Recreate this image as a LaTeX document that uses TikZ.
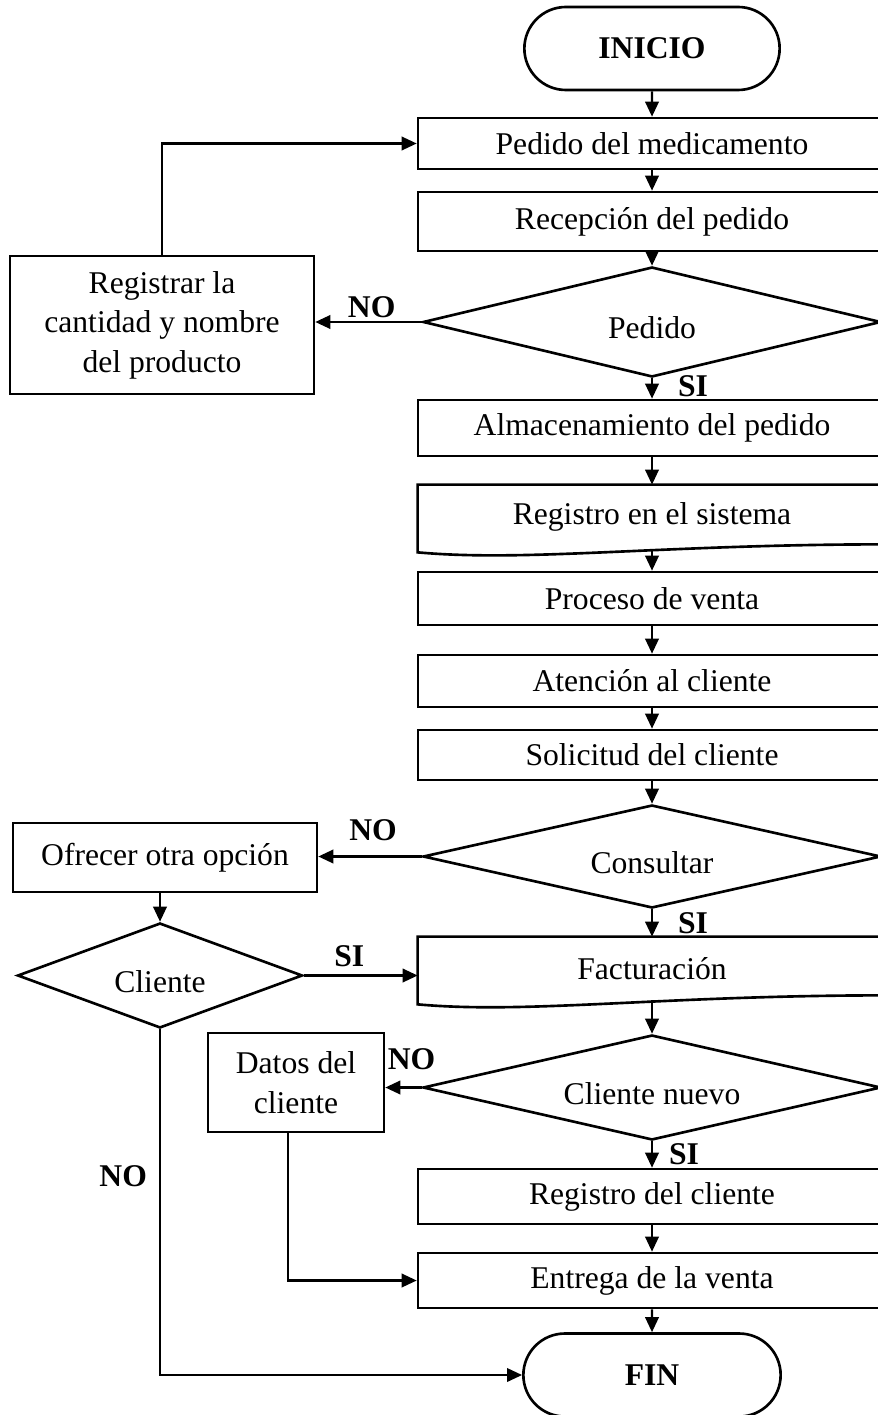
\documentclass[tikz,border=0pt]{standalone}
\usepackage{fontspec}
\setmainfont{Liberation Serif}
\usetikzlibrary{shapes.geometric,shapes.misc,arrows.meta}

\begin{document}
\begin{tikzpicture}[font=\fontsize{18pt}{22.5pt}\selectfont]
	\useasboundingbox (0,0) rectangle (17.54,-28.3);

	\tikzstyle{caja}=[draw,line width=1.5pt,minimum width=9.36cm,inner sep=0pt]
	\tikzstyle{documento}=[minimum width=9.36cm,inner sep=0pt]
	\tikzstyle{decision}=[diamond,draw,line width=1.5pt,aspect=4.4,minimum width=9.16cm,minimum height=2.1cm,inner sep=0pt,text height=0.67cm,text depth=0pt]
	\tikzstyle{terminal}=[rounded rectangle,draw,line width=1.5pt,minimum width=5.34cm,minimum height=1.66cm]
	\tikzstyle{etiq}=[inner sep=0pt]

	% columna principal
	\node[terminal] (inicio) at (13.04,-0.97) {\textbf{INICIO}};
	\node[caja,minimum height=1.02cm] (medic) at (13.04,-2.87) {Pedido del medicamento};
	\node[caja,minimum height=1.18cm] (recep) at (13.04,-4.43) {Recepción del pedido};
	\node[decision,minimum height=2.2cm] (pedido) at (13.04,-6.44) {Pedido};
	\node[caja,minimum height=1.12cm] (almac) at (13.04,-8.56) {Almacenamiento del pedido};
	\node[documento,minimum height=1.28cm] (regsis) at (13.04,-10.34) {Registro en el sistema};
	\node[caja,minimum height=1.06cm] (proceso) at (13.04,-11.97) {Proceso de venta};
	\node[caja,minimum height=1.04cm] (atencion) at (13.04,-13.62) {Atención al cliente};
	\node[caja,minimum height=1.0cm] (solic) at (13.04,-15.1) {Solicitud del cliente};
	\node[decision,minimum height=2.06cm] (consultar) at (13.04,-17.13) {Consultar};
	\node[documento,minimum height=1.26cm] (factura) at (13.04,-19.37) {Facturación};
	\node[decision] (nuevo) at (13.04,-21.75) {Cliente nuevo};
	\node[caja,minimum height=1.1cm] (regcli) at (13.04,-23.93) {Registro del cliente};
	\node[caja,minimum height=1.1cm] (entrega) at (13.04,-25.61) {Entrega de la venta};
	\node[terminal,minimum width=5.38cm] (fin) at (13.04,-27.5) {\textbf{FIN}};

	% columna izquierda
	\node[caja,minimum width=6.08cm,minimum height=2.76cm,align=center] (registrar) at (3.24,-6.5) {Registrar la\\cantidad y nombre\\del producto};
	\node[caja,minimum width=6.08cm,minimum height=1.38cm] (ofrecer) at (3.3,-17.15) {Ofrecer otra opción};
	\node[decision,minimum width=5.7cm] (cliente) at (3.2,-19.51) {Cliente};
	\node[caja,minimum width=3.52cm,minimum height=1.98cm,align=center] (datos) at (5.92,-21.65) {Datos del\\cliente};

	% formas de documento
	\draw[line width=1.5pt] ([yshift=-0.06cm]regsis.south west) -- (regsis.north west) -- (regsis.north east) -- ([yshift=0.1cm]regsis.south east) .. controls +(-4.5,0) and +(2.2,-0.2) .. ([yshift=-0.06cm]regsis.south west) -- cycle;
	\draw[line width=1.5pt] ([yshift=-0.08cm]factura.south west) -- (factura.north west) -- (factura.north east) -- ([yshift=0.1cm]factura.south east) .. controls +(-4.5,0) and +(2.2,-0.2) .. ([yshift=-0.08cm]factura.south west) -- cycle;

	\tikzstyle{flecha}=[-{Triangle[length=0.3cm,width=0.27cm]},line width=1.2pt]
	\draw[flecha] (inicio) -- (medic);
	\draw[flecha] (medic) -- (recep);
	\draw[flecha] (recep) -- (pedido);
	\draw[flecha] (pedido) -- node[etiq,right=0.5cm,pos=0.4] {\textbf{SI}} (almac);
	\draw[flecha] (pedido.west) -- node[etiq,above=0.06cm,pos=0.47] {\textbf{NO}} (pedido.west -| registrar.east);
	\draw[flecha] (registrar.north) |- (medic.west);
	\draw[flecha] (almac) -- (regsis);
	\draw[flecha] (regsis) -- (proceso);
	\draw[flecha] (proceso) -- (atencion);
	\draw[flecha] (atencion) -- (solic);
	\draw[flecha] (solic) -- (consultar);
	\draw[flecha] (consultar) -- node[etiq,right=0.5cm] {\textbf{SI}} (factura);
	\draw[flecha] (consultar.west) -- node[etiq,above=0.3cm,pos=0.47] {\textbf{NO}} (consultar.west -| ofrecer.east);
	\draw[flecha] (ofrecer.south -| cliente.north) -- (cliente.north);
	\draw[flecha] (cliente.east) -- node[etiq,above=0.16cm,pos=0.4] {\textbf{SI}} (cliente.east -| factura.west);
	\draw[flecha] (cliente.south) |- node[etiq,left=0.24cm,pos=0.213] {\textbf{NO}} (fin.west);
	\draw[flecha] (factura) -- (nuevo);
	\draw[flecha] (nuevo.west) -- node[etiq,above=0.34cm,pos=0.28] {\textbf{NO}} (nuevo.west -| datos.east);
	\draw[flecha] (nuevo) -- node[etiq,right=0.32cm] {\textbf{SI}} (regcli);
	\draw[flecha] (regcli) -- (entrega);
	\draw[flecha] ([xshift=-0.16cm]datos.south) |- (entrega.west);
	\draw[flecha] (entrega) -- (fin);
\end{tikzpicture}
\end{document}
